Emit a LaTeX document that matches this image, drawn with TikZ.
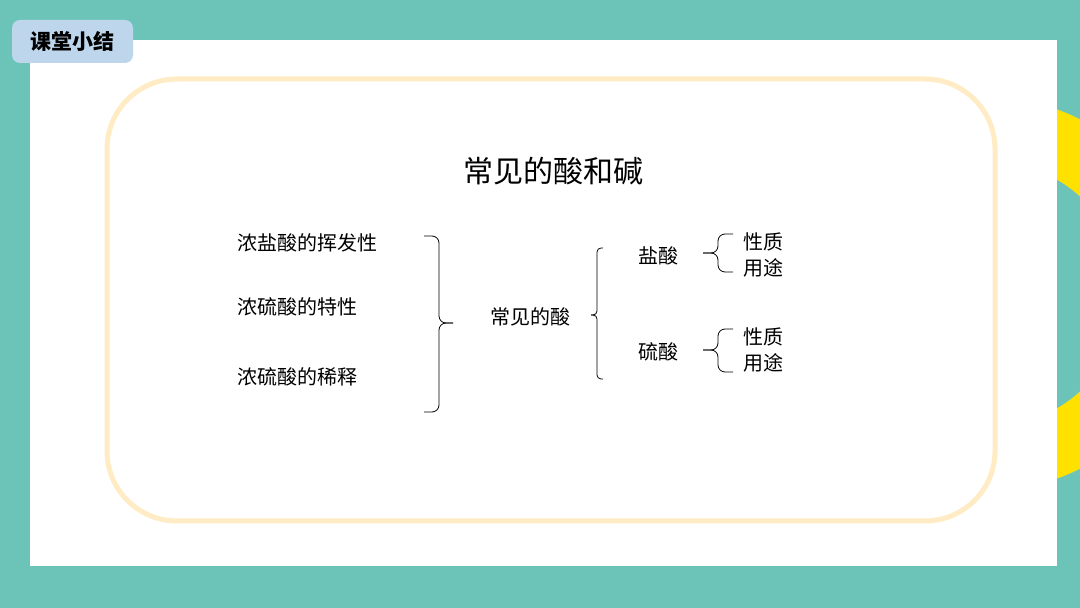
\documentclass[tikz,border=0pt]{standalone}
\usepackage{fontspec}
\setmainfont{Noto Sans CJK SC}
\usepackage{tikz}
\usetikzlibrary{positioning}
\definecolor{bgteal}{RGB}{108,196,184}
\definecolor{tagblue}{RGB}{190,214,236}
\definecolor{cream}{RGB}{255,236,196}
\definecolor{sunyellow}{RGB}{255,225,0}

\begin{document}
\begin{tikzpicture}[
  x=1pt, y=1pt,
  every node/.style={inner sep=0pt, font=\fontsize{20}{24}\selectfont},
  item/.style={anchor=west},
  tagbox/.style={fill=tagblue, rounded corners=8pt, minimum width=121pt, minimum height=43pt, font=\fontsize{21}{24}\selectfont\bfseries},
  brc/.style={line width=0.8pt, rounded corners=#1}
]
\useasboundingbox (0,0) rectangle (1080,608);
\fill[bgteal] (0,0) rectangle (1080,608);
\fill[sunyellow, even odd rule] (991,314) circle (196) (991,314) circle (132);
\fill[white] (30,42) rectangle (1057,568);
\node[tagbox] (tag) at (72.5,566.5) {课堂小结};
\draw[cream, line width=5pt, rounded corners=70pt] (107,87) rectangle (995,529);

\node[font=\fontsize{30}{36}\selectfont] (title) at (553,437) {常见的酸和碱};

% left column
\node[item] (hcl) at (237,365) {浓盐酸的挥发性};
\node[item] (tx) at (237,301) {浓硫酸的特性};
\node[item] (xs) at (237,231) {浓硫酸的稀释};
\coordinate (b1a) at (424,372);
\coordinate (b1t) at (453,285);
\coordinate (b1b) at (424,196);
\draw[brc=7pt] (b1a) -- ++(15,0) |- (b1t);
\draw[brc=7pt] (b1b) -- ++(15,0) |- (b1t);

\node[item] (acid) at (490,291) {常见的酸};
\coordinate (b2a) at (603,360);
\coordinate (b2t) at (591,293);
\coordinate (b2b) at (603,229);
\draw[brc=4pt] (b2a) -- ++(-6,0) |- (b2t);
\draw[brc=4pt] (b2b) -- ++(-6,0) |- (b2t);

% right column
\node[item] (yan) at (638,352) {盐酸};
\node[item] (liu) at (638,256) {硫酸};
\coordinate (b3a) at (733,374);
\coordinate (b3t) at (703,355);
\coordinate (b3b) at (733,336);
\draw[brc=7pt] (b3a) -- ++(-15,0) |- (b3t);
\draw[brc=7pt] (b3b) -- ++(-15,0) |- (b3t);
\coordinate (b4a) at (733,279);
\coordinate (b4t) at (703,258);
\coordinate (b4b) at (733,236);
\draw[brc=7pt] (b4a) -- ++(-15,0) |- (b4t);
\draw[brc=7pt] (b4b) -- ++(-15,0) |- (b4t);

\node[item] (xz1) at (743,366) {性质};
\node[item, below=7pt of xz1] (yt1) {用途};
\node[item] (xz2) at (743,271) {性质};
\node[item, below=7pt of xz2] (yt2) {用途};
\end{tikzpicture}
\end{document}
